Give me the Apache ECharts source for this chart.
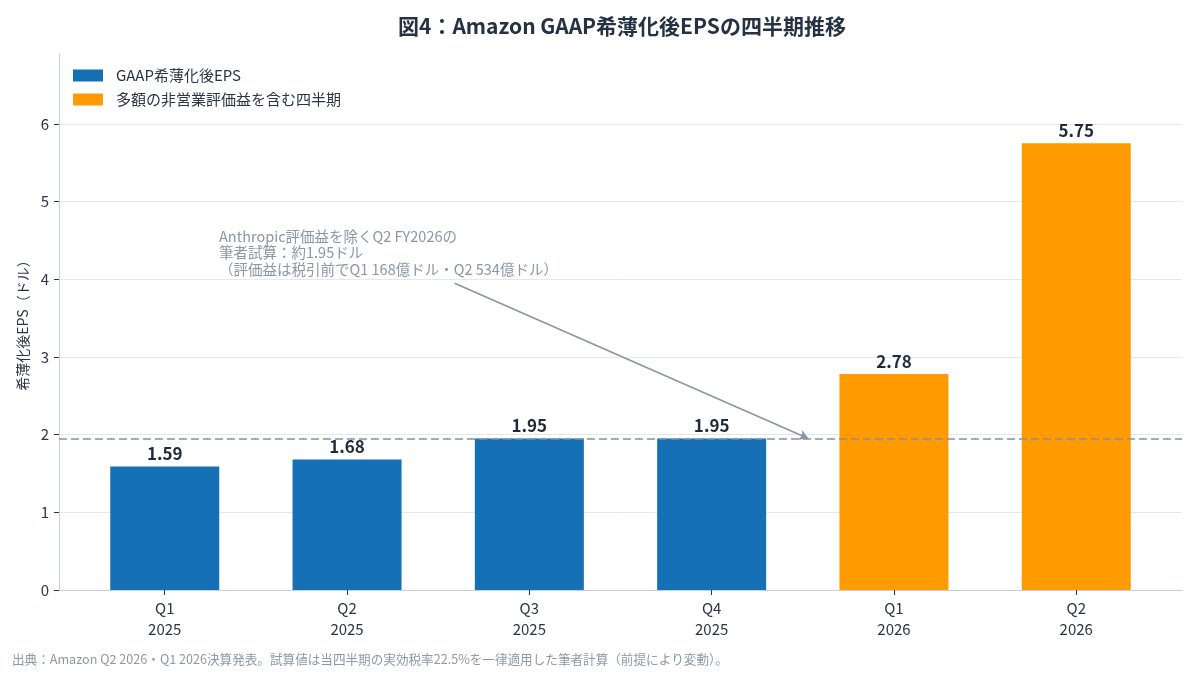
<!DOCTYPE html>
<html>
<head>
<meta charset="utf-8">
<script src="https://cdn.jsdelivr.net/npm/echarts@6/dist/echarts.min.js"></script>
<style>
  html, body { margin: 0; padding: 0; background: #fff; }
  #chart { width: 1200px; height: 675px; }
</style>
</head>
<body>
<div id="chart"></div>
<script>
var categories = ['Q1\n2025', 'Q2\n2025', 'Q3\n2025', 'Q4\n2025', 'Q1\n2026', 'Q2\n2026'];
var gaapEps = [1.59, 1.68, 1.95, 1.95, null, null];
var gainEps = [null, null, null, null, 2.78, 5.75];
var estimateEps = 1.95;
var arrowFrom = [1.59, 3.95];
var arrowTo = [3.53, 1.95];
var yTicks = [0, 1, 2, 3, 4, 5, 6];

var FONT = '"Noto Sans CJK JP", "Noto Sans", sans-serif';

function toPairs(arr) {
    var out = [];
    arr.forEach(function (v, i) {
        if (v !== null) out.push([i, v]);
    });
    return out;
}

var myChart = echarts.init(document.getElementById('chart'));
myChart.setOption({
    animation: false,
    textStyle: { fontFamily: FONT },
    title: {
        text: '図4：Amazon GAAP希薄化後EPSの四半期推移',
        left: 393,
        top: 11,
        textStyle: { fontFamily: FONT, fontSize: 21, fontWeight: 'bold', color: '#243244' }
    },
    legend: {
        orient: 'vertical',
        left: 68,
        top: 63,
        icon: 'rect',
        itemWidth: 30,
        itemHeight: 12,
        itemGap: 9,
        textStyle: { fontFamily: FONT, fontSize: 15, color: '#2b3645', padding: [0, 0, 0, 8] },
        data: ['GAAP希薄化後EPS', '多額の非営業評価益を含む四半期']
    },
    grid: { left: 59, right: 18, top: 54, bottom: 85, containLabel: false },
    xAxis: {
        type: 'value',
        min: -0.58,
        max: 5.58,
        splitLine: { show: false },
        axisLine: { show: true, onZero: false, lineStyle: { color: '#c5d0db' } },
        axisTick: { show: true, customValues: [0, 1, 2, 3, 4, 5], length: 5, lineStyle: { color: '#2b3645' } },
        axisLabel: {
            customValues: [0, 1, 2, 3, 4, 5],
            formatter: function (v) { return categories[Math.round(v)]; },
            fontSize: 15,
            lineHeight: 21,
            color: '#2b3645',
            margin: 8
        }
    },
    yAxis: {
        type: 'value',
        min: 0,
        max: 6.9,
        name: '希薄化後EPS（ドル）',
        nameLocation: 'middle',
        nameGap: 25,
        nameTextStyle: { fontFamily: FONT, fontSize: 14, color: '#2b3645' },
        axisLine: { show: true, onZero: false, lineStyle: { color: '#c5d0db' } },
        axisTick: { show: true, customValues: yTicks, length: 5, lineStyle: { color: '#2b3645' } },
        axisLabel: { customValues: yTicks, fontSize: 15, color: '#2b3645', margin: 10 },
        splitLine: { show: true, lineStyle: { color: '#e3e8ee', width: 1 } }
    },
    series: [
        {
            name: 'GAAP希薄化後EPS',
            type: 'bar',
            stack: 'eps',
            barWidth: 109,
            itemStyle: { color: '#1570b5' },
            label: {
                show: true,
                position: 'top',
                distance: 4,
                fontSize: 17,
                fontWeight: 'bold',
                color: '#1f2b3b',
                formatter: function (p) { return p.value[1].toFixed(2); }
            },
            data: toPairs(gaapEps),
            markLine: {
                silent: true,
                animation: false,
                label: { show: false },
                data: [
                    [
                        { coord: arrowFrom, symbol: 'none' },
                        { coord: arrowTo, symbol: 'arrow', symbolSize: [8, 9] }
                    ],
                    {
                        yAxis: estimateEps,
                        symbol: 'none',
                        lineStyle: { type: [8, 4], width: 1.7, color: '#8592a0' }
                    }
                ],
                symbol: ['none', 'none'],
                lineStyle: { color: '#8a96a3', width: 1.6, type: 'solid' }
            }
        },
        {
            name: '多額の非営業評価益を含む四半期',
            type: 'bar',
            stack: 'eps',
            barWidth: 109,
            itemStyle: { color: '#ff9a00' },
            label: {
                show: true,
                position: 'top',
                distance: 4,
                fontSize: 17,
                fontWeight: 'bold',
                color: '#1f2b3b',
                formatter: function (p) { return p.value[1].toFixed(2); }
            },
            data: toPairs(gainEps)
        }
    ],
    graphic: [
        {
            type: 'text',
            left: 219,
            top: 228,
            style: {
                text: 'Anthropic評価益を除くQ2 FY2026の\n筆者試算：約1.95ドル\n（評価益は税引前でQ1 168億ドル・Q2 534億ドル）',
                font: '14.5px ' + FONT,
                lineHeight: 16.5,
                fill: '#8a97a6'
            }
        },
        {
            type: 'text',
            left: 12,
            top: 653,
            style: {
                text: '出典：Amazon Q2 2026・Q1 2026決算発表。試算値は当四半期の実効税率22.5%を一律適用した筆者計算（前提により変動）。',
                font: '12.6px ' + FONT,
                fill: '#8c98a5'
            }
        }
    ]
});
</script>
</body>
</html>
